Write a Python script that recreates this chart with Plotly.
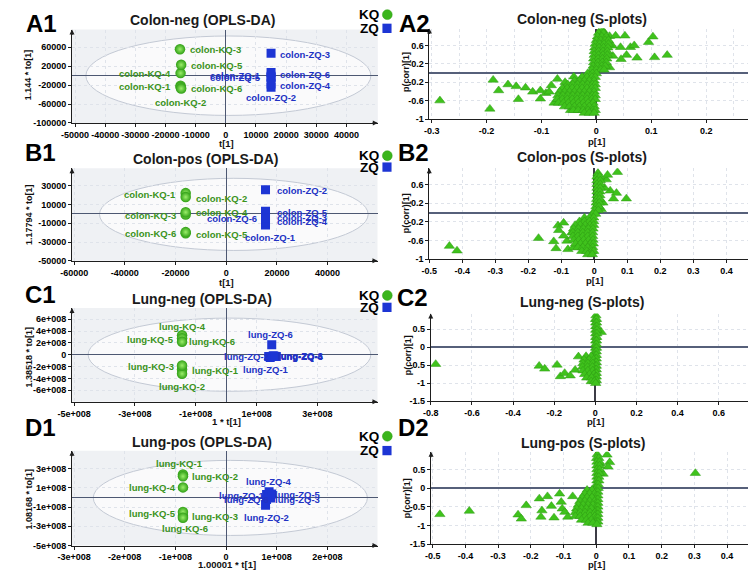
import plotly.graph_objects as go

W, H = 756, 570

# ------------------------------------------------------------------ data
kq_ids = ["KQ-1", "KQ-2", "KQ-3", "KQ-4", "KQ-5", "KQ-6"]
zq_ids = ["ZQ-1", "ZQ-2", "ZQ-3", "ZQ-4", "ZQ-5", "ZQ-6"]

# A1 Colon-neg OPLS-DA scores
a1_kq_t = [-15000, -15000, -15200, -15000, -14800, -14800]
a1_kq_to = [-21000, -24000, 56000, 5500, 23000, -27000]
a1_zq_t = [15000, 15000, 15000, 15000, 15000, 15000]
a1_zq_to = [-1000, -24600, 47600, -17700, -3600, 7000]
# B1 Colon-pos
b1_kq_t = [-16000, -16000, -16000, -16000, -16000, -16000]
b1_kq_to = [22200, 18000, -600, 1800, -20700, -19400]
b1_zq_t = [15500, 15500, 15500, 15500, 15500, 15500]
b1_zq_to = [-11900, 25800, -2400, -8500, 2900, -4000]
# C1 Lung-neg
c1_kq_t = [-1.45e8, -1.45e8, -1.45e8, -1.45e8, -1.45e8, -1.45e8]
c1_kq_to = [-2.5e8, -3.2e8, -1.8e8, 3.3e8, 2.8e8, 2.2e8]
c1_zq_t = [1.45e8, 1.40e8, 1.55e8, 1.65e8, 1.60e8, 1.50e8]
c1_zq_to = [-0.45e8, -0.3e8, -0.15e8, -0.3e8, -0.25e8, 1.68e8]
# D1 Lung-pos
d1_kq_t = [-0.85e8, -0.85e8, -0.85e8, -0.85e8, -0.85e8, -0.85e8]
d1_kq_to = [2.4e8, 2.2e8, -1.93e8, 1.05e8, -1.5e8, -2.1e8]
d1_zq_t = [0.8e8, 0.78e8, 0.88e8, 0.85e8, 0.9e8, 0.8e8]
d1_zq_to = [0.3e8, -0.8e8, -0.05e8, 0.6e8, 0.35e8, -0.2e8]

# Hotelling ellipses [x0, x1, y0, y1]
a1_ellipse = [-46400, 48100, -84000, 84000]
b1_ellipse = [-50000, 56000, -39000, 38000]
c1_ellipse = [-4.54e8, 4.76e8, -6.17e8, 6.2e8]
d1_ellipse = [-2.62e8, 2.79e8, -3.95e8, 3.86e8]

# S-plot loadings: scattered points (p, pcorr)
a2_p = [-0.285, -0.194, -0.188, -0.178, -0.161, -0.146, -0.142, -0.129, -0.116, -0.102,
        -0.102, -0.092, -0.086, -0.082, -0.071, -0.057, -0.041, -0.026, -0.077, -0.047,
        -0.029, -0.060,
        0.012, 0.024, 0.035, 0.052, 0.029, 0.044, 0.062, 0.069, 0.055, 0.045, 0.074,
        0.095, 0.103, 0.106, 0.129, 0.030, 0.024, 0.018]
a2_pc = [-0.60, -0.78, -0.15, -0.38, -0.25, -0.29, -0.57, -0.32, -0.41, -0.38,
         -0.56, -0.44, -0.41, -0.27, -0.13, -0.20, -0.08, -0.09, -0.65, -0.81,
         -0.81, -0.34,
         0.92, 0.80, 0.81, 0.81, 0.59, 0.56, 0.56, 0.60, 0.39, 0.30, 0.33,
         0.67, 0.79, 0.34, 0.39, 0.37, 0.12, 0.48]
# dense core: rows of (pcorr, [p values])
a2_core = [
    (0.95, [0.009]),
    (0.87, [0.004, 0.013]),
    (0.79, [0.002, 0.010, 0.018]),
    (0.71, [0.000, 0.008, 0.016, 0.022]),
    (0.63, [-0.002, 0.006, 0.014, 0.022]),
    (0.55, [-0.003, 0.005, 0.013, 0.021]),
    (0.47, [-0.004, 0.004, 0.012, 0.020]),
    (0.39, [-0.004, 0.004, 0.012, 0.020]),
    (0.31, [-0.005, 0.003, 0.011, 0.019]),
    (0.23, [-0.005, 0.003, 0.011, 0.018]),
    (0.15, [-0.006, 0.002, 0.010, 0.016]),
    (0.07, [-0.008, 0.000, 0.008, 0.014]),
    (-0.01, [-0.016, -0.007, 0.000]),
    (-0.09, [-0.026, -0.017, -0.008, -0.002]),
    (-0.17, [-0.040, -0.031, -0.022, -0.013, -0.004]),
    (-0.25, [-0.052, -0.043, -0.034, -0.025, -0.016, -0.007, -0.002]),
    (-0.33, [-0.062, -0.053, -0.044, -0.035, -0.026, -0.017, -0.008, -0.002]),
    (-0.41, [-0.067, -0.058, -0.049, -0.040, -0.031, -0.022, -0.013, -0.004]),
    (-0.49, [-0.070, -0.061, -0.052, -0.043, -0.034, -0.025, -0.016, -0.007, -0.002]),
    (-0.57, [-0.071, -0.062, -0.053, -0.044, -0.035, -0.026, -0.017, -0.008, -0.002]),
    (-0.65, [-0.069, -0.060, -0.051, -0.042, -0.033, -0.024, -0.015, -0.006]),
    (-0.73, [-0.058, -0.049, -0.040, -0.031, -0.022, -0.013, -0.004]),
    (-0.81, [-0.042, -0.033, -0.024, -0.015, -0.006, -0.002]),
    (-0.87, [-0.022, -0.013, -0.004]),
]

b2_p = [-0.439, -0.416, -0.169, -0.123, -0.116, -0.110, -0.093, -0.108, -0.083, -0.080,
        -0.093, -0.068, -0.063,
        0.070, 0.036, 0.048, 0.067, 0.058, 0.097, 0.031, 0.026, 0.021, 0.011, 0.040]
b2_pc = [-0.72, -0.82, -0.55, -0.62, -0.77, -0.28, -0.22, -0.38, -0.61, -0.79,
         -0.50, -0.43, -0.75,
         0.87, 0.71, 0.47, 0.42, 0.30, 0.30, 0.53, 0.21, 0.07, 0.81, 0.81]
b2_core = [
    (0.85, [0.011]),
    (0.77, [0.008, 0.016]),
    (0.69, [0.008, 0.018]),
    (0.61, [0.008, 0.018]),
    (0.53, [0.008, 0.018]),
    (0.45, [0.008, 0.017]),
    (0.37, [0.008, 0.017]),
    (0.29, [0.007, 0.016]),
    (0.21, [0.006, 0.015]),
    (0.13, [0.005, 0.014]),
    (0.05, [0.002, 0.012]),
    (-0.03, [-0.004, 0.004]),
    (-0.11, [-0.030, -0.015, -0.002]),
    (-0.19, [-0.045, -0.030, -0.015, -0.002]),
    (-0.27, [-0.058, -0.043, -0.028, -0.013, -0.002]),
    (-0.35, [-0.063, -0.048, -0.033, -0.018, -0.004]),
    (-0.43, [-0.065, -0.050, -0.035, -0.020, -0.005]),
    (-0.51, [-0.065, -0.050, -0.035, -0.020, -0.005]),
    (-0.59, [-0.062, -0.047, -0.032, -0.017, -0.004]),
    (-0.67, [-0.057, -0.042, -0.027, -0.012, -0.003]),
    (-0.75, [-0.050, -0.035, -0.020, -0.005]),
    (-0.83, [-0.038, -0.023, -0.008, -0.002]),
    (-0.90, [-0.020, -0.006]),
]

c2_p = [-0.776, -0.273, -0.246, -0.186, -0.170, -0.149, -0.122, -0.098, -0.082, 0.029]
c2_pc = [-0.47, -0.52, -0.60, -0.49, -0.81, -0.72, -0.79, -0.63, -0.26, 0.42]
c2_core = [
    (0.88, [0.003]), (0.78, [0.001, 0.006]), (0.68, [0.002, 0.006]), (0.58, [0.002, 0.007]),
    (0.48, [0.002, 0.008]), (0.38, [0.002, 0.008]), (0.28, [0.002, 0.007]),
    (0.18, [0.002, 0.006]), (0.08, [0.002, 0.006]), (-0.02, [0.001, 0.006]),
    (-0.12, [0.000, 0.005]), (-0.22, [0.000, 0.005]),
    (-0.25, [-0.045, -0.020]),
    (-0.32, [-0.001, 0.005]),
    (-0.35, [-0.055, -0.030, -0.008]),
    (-0.42, [0.000, 0.005]),
    (-0.45, [-0.060, -0.036, -0.012]),
    (-0.52, [0.000, 0.005]),
    (-0.55, [-0.062, -0.038, -0.014]),
    (-0.62, [0.000, 0.005]),
    (-0.65, [-0.060, -0.036, -0.012]),
    (-0.72, [0.000, 0.005]),
    (-0.75, [-0.052, -0.028, -0.006]),
    (-0.82, [0.000, 0.005]),
    (-0.85, [-0.042, -0.018]),
    (-0.92, [0.000, 0.005]),
    (-0.95, [-0.020, -0.004]),
    (-1.00, [0.002]),
]

d2_p = [-0.478, -0.388, -0.239, -0.229, -0.214, -0.174, -0.149, -0.166, -0.169, -0.137,
        -0.129, -0.112, -0.107, -0.104, -0.096, -0.087, -0.072, 0.303,
        0.033, 0.041, 0.036, 0.021, 0.011]
d2_pc = [-0.70, -0.61, -0.71, -0.82, -0.46, -0.28, -0.22, -0.60, -0.77, -0.48,
         -0.79, -0.15, -0.37, -0.55, -0.64, -0.77, -0.22, 0.40,
         0.89, 0.69, 0.57, 0.38, 0.65]
d2_core = [
    (0.90, [0.003]), (0.80, [0.001, 0.008]), (0.70, [0.002, 0.010]), (0.60, [0.002, 0.010]),
    (0.50, [0.002, 0.010]), (0.40, [0.002, 0.009]), (0.30, [0.002, 0.008]),
    (0.20, [0.002, 0.008]), (0.10, [0.001, 0.006]), (0.00, [0.000, 0.006]),
    (-0.05, [-0.028, -0.013]),
    (-0.10, [0.000, 0.005]),
    (-0.15, [-0.035, -0.020, -0.005]),
    (-0.20, [0.000, 0.005]),
    (-0.25, [-0.043, -0.028, -0.013]),
    (-0.30, [0.000, 0.005]),
    (-0.35, [-0.050, -0.035, -0.020, -0.005]),
    (-0.40, [0.000, 0.005]),
    (-0.45, [-0.055, -0.040, -0.025, -0.010]),
    (-0.50, [0.000, 0.005]),
    (-0.55, [-0.060, -0.045, -0.030, -0.015]),
    (-0.60, [0.000, 0.005]),
    (-0.65, [-0.064, -0.049, -0.034, -0.019, -0.004]),
    (-0.70, [0.000, 0.005]),
    (-0.75, [-0.064, -0.049, -0.034, -0.019, -0.004]),
    (-0.80, [0.000, 0.005]),
    (-0.85, [-0.045, -0.030, -0.015]),
    (-0.90, [0.000, 0.005]),
    (-0.93, [-0.025, -0.010]),
    (-0.97, [0.002]),
]

# tick labels
a1_xt = [-50000, -40000, -30000, -20000, -10000, 0, 10000, 20000, 30000, 40000]
a1_yt = [60000, 20000, -20000, -60000, -100000]
b1_xt = [-60000, -40000, -20000, 0, 20000, 40000]
b1_yt = [30000, 10000, -10000, -30000, -50000]
c1_xt = [-5e8, -3e8, -1e8, 1e8, 3e8]
c1_xtt = ["-5e+008", "-3e+008", "-1e+008", "1e+008", "3e+008"]
c1_yt = [6e8, 4e8, 2e8, 0, -2e8, -4e8, -6e8, -8e8]
c1_ytt = ["6e+008", "4e+008", "2e+008", "0", "-2e+008", "-4e+008", "-6e+008", "-8e+008"]
d1_xt = [-3e8, -2e8, -1e8, 0, 1e8, 2e8]
d1_xtt = ["-3e+008", "-2e+008", "-1e+008", "0", "1e+008", "2e+008"]
d1_yt = [3e8, 1e8, -1e8, -3e8, -5e8]
d1_ytt = ["3e+008", "1e+008", "-1e+008", "-3e+008", "-5e+008"]
a2_xt = [-0.3, -0.2, -0.1, 0, 0.1, 0.2]
a2_xtt = ["-0.3", "-0.2", "-0.1", "0", "0.1", "0.2"]
s_yt1 = [-1, -0.6, -0.2, 0.2, 0.6]
s_ytt1 = ["-1", "-0.6", "-0.2", "0.2", "0.6"]
b2_xt = [-0.5, -0.4, -0.3, -0.2, -0.1, 0, 0.1, 0.2, 0.3, 0.4]
b2_xtt = ["-0.5", "-0.4", "-0.3", "-0.2", "-0.1", "0", "0.1", "0.2", "0.3", "0.4"]
c2_xt = [-0.8, -0.6, -0.4, -0.2, 0, 0.2, 0.4, 0.6]
c2_xtt = ["-0.8", "-0.6", "-0.4", "-0.2", "0", "0.2", "0.4", "0.6"]
s_yt2 = [-1.5, -1, -0.5, 0, 0.5]
s_ytt2 = ["-1.5", "-1", "-0.5", "0", "0.5"]

# ------------------------------------------------------------------ style
FONT = "Liberation Sans"
GREEN = "#2f9f15"
GREEN_TXT = "#3a931c"
BLUE = "#1d35d4"
BLUE_TXT = "#2232c4"
TRI = "#3fc21c"
AXC = "#1e1e1e"
ZERO = "#4d5872"


def pxx(v):
    return v / W


def pxy(v):
    return 1 - v / H


fig = go.Figure()
annotations = []
shapes = []


def axis_names(i):
    s = "" if i == 1 else str(i)
    return "xaxis" + s, "yaxis" + s, "x" + s, "y" + s


def bold(labels):
    return ["<b>" + str(t) + "</b>" for t in labels]


def setup_axes(i, xd, yd, xr, yr, xtv, xtt, ytv, ytt, xminor=None):
    xa, ya, xref, yref = axis_names(i)
    common = dict(showline=True, linecolor=AXC, linewidth=1, ticks="outside",
                  ticklen=3, tickcolor=AXC, showgrid=True, gridcolor="#dfe3ea",
                  griddash="dot", gridwidth=1, zeroline=True, zerolinecolor=ZERO,
                  zerolinewidth=1.4, tickfont=dict(family=FONT, size=9, color="#000"),
                  fixedrange=True)
    xdict = dict(common, domain=[pxx(xd[0]), pxx(xd[1])], range=xr, anchor=yref,
                 tickmode="array", tickvals=xtv, ticktext=bold(xtt))
    if xminor:
        xdict["minor"] = dict(dtick=xminor, showgrid=True, gridcolor="#dfe3ea",
                              griddash="dot", ticks="")
    ydict = dict(common, domain=[pxy(yd[1]), pxy(yd[0])], range=yr, anchor=xref,
                 tickmode="array", tickvals=ytv, ticktext=bold(ytt))
    fig.layout[xa] = xdict
    fig.layout[ya] = ydict
    # arrow heads at the axis ends
    annotations.append(dict(xref=xref + " domain", yref=yref + " domain", x=1.0, y=0,
                            ax=-7, ay=0, showarrow=True, arrowhead=2, arrowsize=1,
                            arrowwidth=1, arrowcolor=AXC, text=""))
    annotations.append(dict(xref=xref + " domain", yref=yref + " domain", x=0, y=1.0,
                            ax=0, ay=7, showarrow=True, arrowhead=2, arrowsize=1,
                            arrowwidth=1, arrowcolor=AXC, text=""))
    return xref, yref


def text(x, y, s, size=9, color="#111", angle=0, xanchor="center", yanchor="middle"):
    annotations.append(dict(xref="paper", yref="paper", x=pxx(x), y=pxy(y),
                            text="<b>" + s + "</b>",
                            showarrow=False, xanchor=xanchor, yanchor=yanchor,
                            textangle=angle,
                            font=dict(family=FONT, size=size, color=color)))


def opls_panel(i, xd, yd, xr, yr, xtv, xtt, ytv, ytt, ell, kq_t, kq_to, zq_t, zq_to,
               prefix, kq_lab, zq_lab):
    xref, yref = setup_axes(i, xd, yd, xr, yr, xtv, xtt, ytv, ytt)
    shapes.append(dict(type="rect", xref=xref + " domain", yref=yref + " domain",
                       x0=0, x1=1, y0=0, y1=1, layer="below", line=dict(width=0),
                       fillcolor="#eff1f4"))
    shapes.append(dict(type="circle", xref=xref, yref=yref, x0=ell[0], x1=ell[1],
                       y0=ell[2], y1=ell[3], layer="below",
                       line=dict(color="#c3c9d4", width=1), fillcolor="#fafafb"))
    fig.add_trace(go.Scatter(x=kq_t, y=kq_to, xaxis=xref, yaxis=yref, mode="markers",
                             marker=dict(symbol="circle", size=10.5, color=GREEN,
                                         gradient=dict(type="radial", color="#9bee6a"),
                                         line=dict(width=0)),
                             showlegend=False, hoverinfo="skip"))
    fig.add_trace(go.Scatter(x=zq_t, y=zq_to, xaxis=xref, yaxis=yref, mode="markers",
                             marker=dict(symbol="square", size=9, color=BLUE,
                                         line=dict(width=0)),
                             showlegend=False, hoverinfo="skip"))
    for ids, tx, ty, labs, col in ((kq_ids, kq_t, kq_to, kq_lab, GREEN_TXT),
                                   (zq_ids, zq_t, zq_to, zq_lab, BLUE_TXT)):
        for name, x, y, (anc, dx, dy) in zip(ids, tx, ty, labs):
            annotations.append(dict(xref=xref, yref=yref, x=x, y=y,
                                    text="<b>" + prefix + name + "</b>",
                                    showarrow=False, xanchor=anc, yanchor="middle",
                                    xshift=dx, yshift=dy,
                                    font=dict(family=FONT, size=9.5, color=col)))


def s_panel(i, xd, yd, xr, yr, xtv, xtt, ytv, ytt, p, pc, core, xminor=None):
    xref, yref = setup_axes(i, xd, yd, xr, yr, xtv, xtt, ytv, ytt, xminor)
    fig.layout[axis_names(i)[0]].zerolinecolor = "#3c3c46"
    fig.layout[axis_names(i)[0]].zerolinewidth = 1.5
    fig.layout[axis_names(i)[1]].zerolinecolor = "#56607a"
    fig.layout[axis_names(i)[1]].zerolinewidth = 1.5
    xs, ys = list(p), list(pc)
    for yv, row in core:
        for xv in row:
            xs.append(xv)
            ys.append(yv)
    fig.add_trace(go.Scatter(x=xs, y=ys, xaxis=xref, yaxis=yref, mode="markers",
                             marker=dict(symbol="triangle-up", size=9, color=TRI,
                                         line=dict(width=0.5, color="#2f9a14")),
                             showlegend=False, hoverinfo="skip"))


# label offsets (anchor, xshift px, yshift px) for KQ-1..6 / ZQ-1..6
a1_kq_lab = [("right", -8, -1), ("center", 0, -15), ("left", 8, 0), ("right", -8, 0),
             ("left", 8, -1), ("left", 8, 0)]
a1_zq_lab = [("right", -8, 1), ("center", 0, -10), ("left", 7, -1), ("left", 7, -1),
             ("right", -8, 0), ("left", 7, -2)]
b1_kq_lab = [("right", -8, -1), ("left", 8, -1.5), ("right", -8, -1.5), ("left", 8, -0.5),
             ("left", 8, -1), ("right", -8, -1)]
b1_zq_lab = [("left", -23, -12), ("left", 9, -1), ("left", 9, -1), ("left", 9, 0),
             ("left", 9, -1.5), ("right", -7, -1)]
c1_kq_lab = [("left", 8, -1), ("center", 0, -12.5), ("right", -6, -1), ("center", 0, 8.5),
             ("right", -6, -1), ("left", 4.5, 0)]
c1_zq_lab = [("center", -4, -12), ("right", 2, 0), ("left", 3, 0), ("left", 0, 0),
             ("left", 1.5, 0), ("center", -1, 10)]
d1_kq_lab = [("center", -3, 11), ("left", 7, -0.5), ("left", 7, 0), ("right", -5, 0),
             ("right", -5, -2), ("center", 2, -11)]
d1_zq_lab = [("right", 0, -1), ("center", 1, -12), ("left", 2, -1.4), ("center", 0, 10),
             ("left", 1, -0.6), ("right", 4.6, 0)]

# ------------------------------------------------------------------ panels
opls_panel(1, (50, 362), (21.7, 116), [-51000, 50400], [-100000, 97700],
           a1_xt, a1_xt, a1_yt, a1_yt,
           a1_ellipse, a1_kq_t, a1_kq_to, a1_zq_t, a1_zq_to, "colon-", a1_kq_lab, a1_zq_lab)
s_panel(2, (414.7, 753), (20.7, 112), [-0.304, 0.30], [-1, 0.967],
        a2_xt, a2_xtt, s_yt1, s_ytt1, a2_p, a2_pc, a2_core, xminor=0.05)
opls_panel(3, (50, 361.7), (161.7, 255), [-60850, 59700], [-50000, 48700],
           b1_xt, b1_xt, b1_yt, b1_yt,
           b1_ellipse, b1_kq_t, b1_kq_to, b1_zq_t, b1_zq_to, "colon-", b1_kq_lab, b1_zq_lab)
s_panel(4, (414.5, 751.3), (161.7, 253.3), [-0.5, 0.5], [-1, 0.954],
        b2_xt, b2_xtt, s_yt1, s_ytt1, b2_p, b2_pc, b2_core)
opls_panel(5, (50, 361.7), (302.7, 397.3), [-5.07e8, 4.98e8], [-7.95e8, 7.9e8],
           c1_xt, c1_xtt, c1_yt, c1_ytt,
           c1_ellipse, c1_kq_t, c1_kq_to, c1_zq_t, c1_zq_to, "lung-", c1_kq_lab, c1_zq_lab)
s_panel(6, (416, 749.7), (308.3, 396.7), [-0.8, 0.79], [-1.5, 0.936],
        c2_xt, c2_xtt, s_yt2, s_ytt2, c2_p, c2_pc, c2_core)
opls_panel(7, (50, 361.7), (446.7, 542.3), [-3.04e8, 2.99e8], [-5e8, 4.86e8],
           d1_xt, d1_xtt, d1_yt, d1_ytt,
           d1_ellipse, d1_kq_t, d1_kq_to, d1_zq_t, d1_zq_to, "lung-", d1_kq_lab, d1_zq_lab)
s_panel(8, (416.3, 749.7), (447.7, 541), [-0.505, 0.494], [-1.5, 0.973],
        b2_xt, b2_xtt, s_yt2, s_ytt2, d2_p, d2_pc, d2_core)

# ------------------------------------------------------------------ texts
text(19, 0, "A1", size=24, color="#000", yanchor="top")
text(399, 0, "A2", size=24, color="#000", yanchor="top")
panel_letters = [("B1", 18, 146), ("B2", 398, 146),
                 ("C1", 18, 289), ("C2", 397, 292), ("D1", 18, 423), ("D2", 398, 423)]
for s, x, y in panel_letters:
    text(x, y, s, size=24, color="#000")

titles = [("Colon-neg (OPLS-DA)", 183, 12.5), ("Colon-neg (S-plots)", 570, 11),
          ("Colon-pos (OPLS-DA)", 186, 152), ("Colon-pos (S-plots)", 570, 150.5),
          ("Lung-neg (OPLS-DA)", 182.5, 293.5), ("Lung-neg (S-plots)", 570, 297),
          ("Lung-pos (OPLS-DA)", 182.5, 437.5), ("Lung-pos (S-plots)", 571, 439)]
for s, x, y in titles:
    text(x, y, s, size=14, color="#1a1a1a")

ytitles = [("1.144 * to[1]", 6, 67), ("1.17794 * to[1]", 6, 208), ("1.38518 * to[1]", 6, 351.7),
           ("1.08168 * to[1]", 6, 495), ("p(corr)[1]", 391.3, 65), ("p(corr)[1]", 391, 206.7),
           ("p(corr)[1]", 393, 350), ("p(corr)[1]", 391.3, 495)]
for s, x, y in ytitles:
    text(x, y, s, size=9, color="#111", angle=-90)

xtitles = [("t[1]", 208, 136.7), ("t[1]", 208, 276.7), ("1 * t[1]", 208, 416.7),
           ("1.00001 * t[1]", 208, 561.7), ("p[1]", 584.7, 135), ("p[1]", 583, 275),
           ("p[1]", 584, 416.7), ("p[1]", 584.7, 561.7)]
for s, x, y in xtitles:
    text(x, y, s, size=9.5, color="#111")

# legends (KQ circle / ZQ square)
for ky, zy in ((6.7, 20.5), (149, 160.5), (290, 302), (432, 446.5)):
    text(365.5, ky, "KQ", size=13.5, color="#000", xanchor="right")
    text(365.5, zy, "ZQ", size=13.5, color="#000", xanchor="right")
    shapes.append(dict(type="circle", xref="paper", yref="paper", x0=pxx(366.7),
                       x1=pxx(376.7), y0=pxy(ky + 5), y1=pxy(ky - 5),
                       fillcolor="#3bb51c", line=dict(color="#2f9f15", width=0.5)))
    shapes.append(dict(type="rect", xref="paper", yref="paper", x0=pxx(366.7),
                       x1=pxx(376), y0=pxy(zy + 4.7), y1=pxy(zy - 4.7),
                       fillcolor=BLUE, line=dict(width=0)))

fig.update_layout(width=W, height=H, margin=dict(l=0, r=0, t=0, b=0),
                  paper_bgcolor="white", plot_bgcolor="white",
                  annotations=annotations, shapes=shapes, showlegend=False)

fig.write_html("out.html")
